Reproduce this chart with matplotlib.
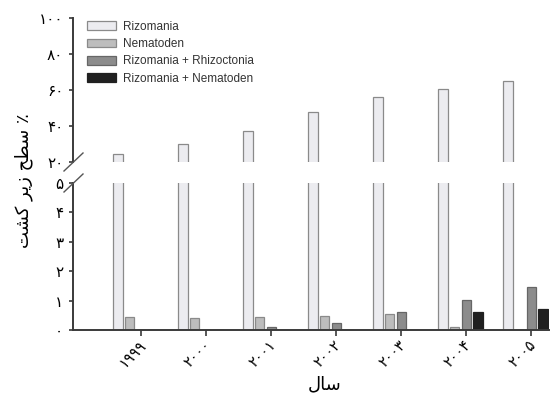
import matplotlib
matplotlib.use("Agg")
import matplotlib.pyplot as plt
import matplotlib.transforms as mtransforms
import numpy as np

plt.rcParams["font.family"] = ["DejaVu Sans"]

# Data (percent of cultivated area)
years = ["۱۹۹۹", "۲۰۰۰", "۲۰۰۱", "۲۰۰۲", "۲۰۰۳", "۲۰۰۴", "۲۰۰۵"]
series_names = ["Rizomania", "Nematoden", "Rizomania + Rhizoctonia", "Rizomania + Nematoden"]
rizomania = [24.5, 30, 37, 48, 56, 60.5, 65]
nematoden = [0.43, 0.40, 0.44, 0.47, 0.53, 0.09, 0.0]
riz_rhizoctonia = [0.0, 0.0, 0.09, 0.24, 0.60, 1.02, 1.45]
riz_nematoden = [0.0, 0.0, 0.0, 0.0, 0.0, 0.62, 0.70]

top_ticks = [20, 40, 60, 80, 100]
top_ticklabels = ["۲۰", "۴۰", "۶۰", "۸۰", "۱۰۰"]
bot_ticks = [0, 1, 2, 3, 4, 5]
bot_ticklabels = ["۰", "۱", "۲", "۳", "۴", "۵"]

# "% سطح زیر کشت" and "سال" written in visual order with presentation forms
ylabel = "\uFE96\uFEB8\uFB90 \uFEAE\uFBFE\uFEAF \uFEA2\uFEC4\uFEB3 \u066A"
xlabel = "\uFEDD\uFE8E\uFEB3"

face = ["#ececf0", "#bdbdbd", "#8c8c8c", "#202020"]
edge = ["#8a8a8a", "#8a8a8a", "#666666", "#202020"]
spine_c = "#3a3a3a"

W, H = 552, 395
fig = plt.figure(figsize=(W / 100, H / 100), dpi=100)

left, right = 73, 549
ax_top = fig.add_axes([left / W, 1 - 162 / H, (right - left) / W, (162 - 18) / H])
ax_bot = fig.add_axes([left / W, 1 - 330 / H, (right - left) / W, (330 - 183) / H])

x = np.arange(len(years))
step = 0.18
width = 0.145
data = [rizomania, nematoden, riz_rhizoctonia, riz_nematoden]
offsets = [-2, -1, 0, 1]

for ax in (ax_top, ax_bot):
    for i, vals in enumerate(data):
        ax.bar(x + offsets[i] * step, vals, width, color=face[i], edgecolor=edge[i],
               linewidth=0.9, label=series_names[i])
    ax.set_xlim(-1.05, 6.27)
    for s in ("top", "right"):
        ax.spines[s].set_visible(False)
    ax.spines["left"].set_color(spine_c)
    ax.spines["left"].set_linewidth(1.4)
    ax.tick_params(axis="y", direction="out", length=3, width=1.2, colors=spine_c,
                   labelcolor="black", labelsize=11, pad=4)

ax_top.set_ylim(20, 100)
ax_top.set_yticks(top_ticks)
ax_top.set_yticklabels(top_ticklabels)
ax_top.spines["bottom"].set_visible(False)
ax_top.set_xticks([])

ax_bot.set_ylim(0, 5)
ax_bot.set_yticks(bot_ticks)
ax_bot.set_yticklabels(bot_ticklabels)
ax_bot.spines["bottom"].set_color(spine_c)
ax_bot.spines["bottom"].set_linewidth(1.4)
ax_bot.set_xticks(x)
ax_bot.set_xticklabels(years, rotation=45, ha="right", va="top", fontsize=10.5,
                       rotation_mode="anchor")
ax_bot.tick_params(axis="x", direction="out", length=4, width=1.2, colors=spine_c,
                   labelcolor="black", pad=1)
# nudge x tick labels slightly, as in the original
shift = mtransforms.ScaledTranslation(-3 / 100, 0, fig.dpi_scale_trans)
for lab in ax_bot.get_xticklabels():
    lab.set_transform(lab.get_transform() + shift)

# break marks
for yb in (162, 183):
    fig.add_artist(plt.Line2D([(left - 9) / W, (left + 10) / W],
                              [1 - (yb + 9) / H, 1 - (yb - 9) / H],
                              color="#555555", linewidth=1.0))

leg = ax_top.legend(loc="upper left", bbox_to_anchor=(0.015, 1.03), frameon=False,
                    prop={"family": "Liberation Sans", "size": 8.5},
                    handlelength=2.4, handleheight=0.75,
                    labelspacing=0.45, handletextpad=0.6, borderaxespad=0.2)
for t in leg.get_texts():
    t.set_color("#333333")

fig.text(24 / W, 1 - 181 / H, ylabel, rotation=90, ha="center", va="center", fontsize=13)
fig.text(325 / W, 1 - 384 / H, xlabel, ha="center", va="center", fontsize=13)

fig.savefig("out.png", dpi=100)
